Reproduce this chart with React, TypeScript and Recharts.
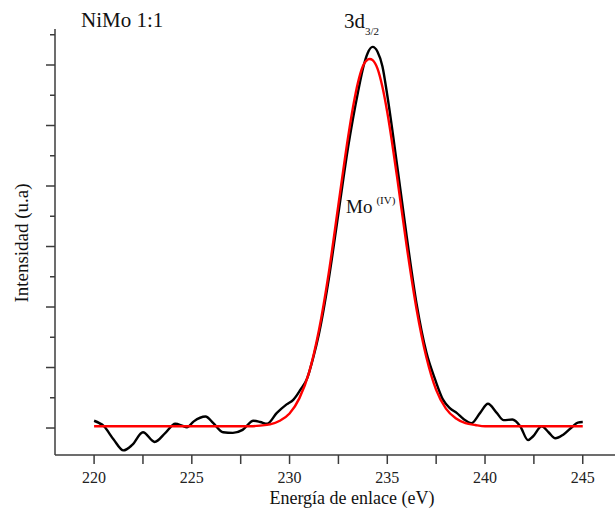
import { Line, LineChart, XAxis, YAxis } from "recharts";

// measured spectrum (black), energy in eV / intensity in tick units
const energyMeasured = [
  220.0, 220.5, 221.0, 221.5, 221.95, 222.5, 223.1, 223.65, 224.15, 224.5, 224.75, 225.1, 225.7,
  226.1, 226.6, 227.1, 227.6, 228.15, 228.5, 228.85, 229.35, 229.85, 230.2, 230.55, 230.9, 231.2,
  231.5, 232.0, 232.5, 233.0, 233.5, 233.8, 234.0, 234.25, 234.5, 234.75, 235.0, 235.5, 236.0,
  236.5, 237.0, 237.45, 237.85, 238.2, 238.55, 238.9, 239.3, 239.75, 240.15, 240.6, 240.95, 241.4,
  241.8, 242.2, 242.45, 242.9, 243.25, 243.6, 244.0, 244.5, 244.75, 245.0,
];
const intensityMeasured = [
  0.12, 0.03, -0.19, -0.37, -0.28, -0.07, -0.23, -0.08, 0.07, 0.04, 0.01, 0.11, 0.19,
  0.08, -0.07, -0.08, -0.03, 0.12, 0.1, 0.07, 0.25, 0.39, 0.47, 0.63, 0.82, 1.15,
  1.55, 2.45, 3.55, 4.65, 5.55, 6.0, 6.2, 6.3, 6.22, 5.98, 5.5, 4.35, 3.15,
  2.05, 1.25, 0.8, 0.47, 0.33, 0.25, 0.15, 0.08, 0.25, 0.4, 0.25, 0.13, 0.14,
  0.03, -0.2, -0.14, 0.03, -0.07, -0.17, -0.11, 0.03, 0.09, 0.1,
];

// fitted Mo(IV) component (red)
const energyFit = [
  220, 228, 228.5, 229, 229.5, 230, 230.5, 231, 231.5, 232, 232.5, 233, 233.25, 233.5, 233.75,
  234, 234.1, 234.25, 234.5, 234.75, 235, 235.5, 236, 236.5, 237, 237.5, 238, 238.5, 239, 239.5,
  240, 245,
];
const intensityFit = [
  0.03, 0.03, 0.04, 0.06, 0.12, 0.24, 0.49, 0.92, 1.61, 2.55, 3.69, 4.82, 5.31, 5.71, 5.98,
  6.09, 6.1, 6.08, 5.94, 5.64, 5.22, 4.15, 2.99, 1.96, 1.17, 0.63, 0.32, 0.16, 0.08, 0.05,
  0.03, 0.03,
];

const xTicks = [220, 222.5, 225, 227.5, 230, 232.5, 235, 237.5, 240, 242.5, 245];
const yTicks = [0, 0.5, 1, 1.5, 2, 2.5, 3, 3.5, 4, 4.5, 5, 5.5, 6, 6.5];

const measured = energyMeasured.map((x, i) => ({ x, y: intensityMeasured[i] }));
const fit = energyFit.map((x, i) => ({ x, y: intensityFit[i] }));

const FONT = "'Liberation Serif', 'Times New Roman', serif";
const AXIS = "#3c3c3c";

const XTick = ({ x, y, payload }: any) => {
  const major = payload.value % 5 === 0;
  return (
    <g>
      <line x1={x} x2={x} y1={y} y2={y + 9} stroke={AXIS} strokeWidth={1.5} />
      {major && (
        <text x={x} y={y + 28} textAnchor="middle" fontSize={16} fontFamily={FONT} fill="#222">
          {payload.value}
        </text>
      )}
    </g>
  );
};

const YTick = ({ x, y, payload }: any) => {
  const len = payload.value % 1 === 0 ? 9 : 5;
  return <line x1={x - len} x2={x} y1={y} y2={y} stroke={AXIS} strokeWidth={1.5} />;
};

const App = () => {
  return (
    <div style={{ position: "absolute", left: 0, top: 0, width: 615, height: 516, overflow: "hidden", background: "#fff" }}>
      <LineChart width={615} height={516} margin={{ top: 29, right: 0, bottom: 0, left: 0 }}>
        <XAxis
          type="number"
          dataKey="x"
          domain={[218, 246.65]}
          ticks={xTicks}
          allowDataOverflow
          height={61}
          tickSize={0}
          tickMargin={0}
          tickLine={false}
          tick={<XTick />}
          axisLine={{ stroke: AXIS, strokeWidth: 1.5 }}
        />
        <YAxis
          type="number"
          dataKey="y"
          domain={[-0.446, 6.595]}
          ticks={yTicks}
          allowDataOverflow
          width={55}
          tickSize={0}
          tickMargin={0}
          tickLine={false}
          tick={<YTick />}
          axisLine={{ stroke: AXIS, strokeWidth: 1.5 }}
        />
        <Line data={measured} dataKey="y" type="monotone" stroke="#000" strokeWidth={2.4} dot={false} isAnimationActive={false} />
        <Line data={fit} dataKey="y" type="monotone" stroke="#ff0000" strokeWidth={2.4} dot={false} isAnimationActive={false} />
      </LineChart>
      <svg width={615} height={516} style={{ position: "absolute", left: 0, top: 0, pointerEvents: "none" }}>
        <g fontFamily={FONT} fill="#111">
          <text x={81} y={27} fontSize={21}>NiMo 1:1</text>
          <text x={344} y={28} fontSize={21}>
            3d<tspan dy={7} fontSize={11}>3/2</tspan>
          </text>
          <text x={346} y={213} fontSize={19}>
            Mo<tspan dx={4} dy={-9} fontSize={11}>(IV)</tspan>
          </text>
          <text transform="translate(28,243) rotate(-90)" textAnchor="middle" fontSize={19}>
            Intensidad (u.a)
          </text>
          <text x={352} y={504} textAnchor="middle" fontSize={18}>
            Energía de enlace (eV)
          </text>
        </g>
      </svg>
    </div>
  );
};

export default App;
